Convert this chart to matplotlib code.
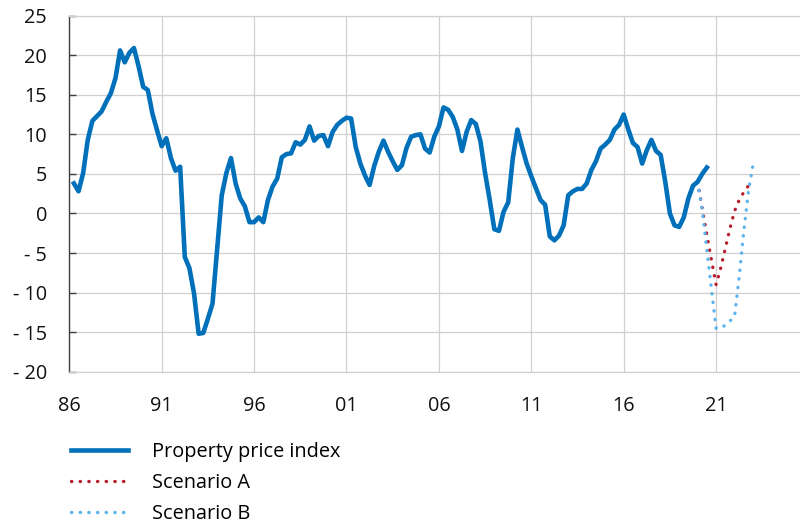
import numpy as np
import matplotlib
matplotlib.use('Agg')
import matplotlib.pyplot as plt

# property price index, quarterly % change, from 1986Q2
index_vals = [
    3.8, 2.8, 5.1, 9.3, 11.7, 12.3, 12.9, 14.1, 15.2, 17.1,
    20.6, 19.1, 20.3, 20.9, 18.6, 16.0, 15.6, 12.6, 10.5, 8.5,
    9.5, 7.0, 5.4, 5.9, -5.5, -6.9, -10.1, -15.2, -15.1, -13.3,
    -11.4, -4.5, 2.3, 5.1, 7.0, 3.8, 1.9, 0.9, -1.1, -1.1,
    -0.5, -1.1, 1.7, 3.4, 4.4, 7.1, 7.5, 7.6, 9.0, 8.7,
    9.3, 11.0, 9.2, 9.8, 9.9, 8.5, 10.3, 11.2, 11.7, 12.1,
    12.0, 8.4, 6.3, 4.8, 3.6, 6.0, 7.8, 9.2, 7.8, 6.6,
    5.5, 6.1, 8.3, 9.7, 9.9, 10.0, 8.2, 7.7, 9.7, 11.0,
    13.4, 13.1, 12.2, 10.6, 7.9, 10.3, 11.8, 11.3, 9.1, 5.1,
    1.7, -2.0, -2.2, 0.2, 1.4, 7.0, 10.6, 8.4, 6.3, 4.7,
    3.2, 1.7, 1.1, -2.9, -3.4, -2.8, -1.5, 2.3, 2.8, 3.1,
    3.1, 3.8, 5.5, 6.6, 8.2, 8.7, 9.3, 10.6, 11.2, 12.5,
    10.6, 8.9, 8.4, 6.3, 8.0, 9.3, 7.9, 7.4, 4.0, 0.0,
    -1.5, -1.7, -0.5, 1.9, 3.5, 4.0, 5.0, 5.8,
]
index_start = 1986.25

# scenarios, quarterly from 2020Q1
scen_a = [4.0, 0.6, -2.7, -5.9, -9.0, -6.9, -4.4, -1.9, 0.3, 1.7, 2.7, 3.5, 4.1]
scen_b = [4.0, 0.4, -4.6, -9.6, -14.5, -14.5, -14.1, -13.6, -13.0, -8.0, -2.2, 2.8, 6.2]
scen_start = 2020.0

tick_years = [1986, 1991, 1996, 2001, 2006, 2011, 2016, 2021]
tick_labels = ['86', '91', '96', '01', '06', '11', '16', '21']
yticks = [25, 20, 15, 10, 5, 0, -5, -10, -15, -20]

labels = ['Property price index', 'Scenario A', 'Scenario B']

plt.rcParams['font.family'] = ['Open Sans', 'DejaVu Sans']
fs = 14.3

fig = plt.figure(figsize=(8, 5.26), dpi=100)
ax = fig.add_axes([0.0866, 0.2933, 0.9134, 0.677])

x_idx = index_start + np.arange(len(index_vals)) / 4
x_sc = scen_start + np.arange(len(scen_a)) / 4

dots = (0, (0.1, 2.5))
ax.plot(x_idx, index_vals, color='#0070BA', lw=3.3, solid_joinstyle='round',
        label=labels[0], zorder=4)
ax.plot(x_sc, scen_a, color='#B81D2C', lw=2.4, linestyle=dots,
        dash_capstyle='round', label=labels[1], zorder=3)
ax.plot(x_sc, scen_b, color='#5DB3EC', lw=2.4, linestyle=dots,
        dash_capstyle='round', label=labels[2], zorder=3)

ax.set_xlim(1986, 2025.54)
ax.set_ylim(-20, 25)
ax.set_xticks(tick_years)
ax.set_xticklabels(tick_labels)
ax.set_yticks(yticks)
ax.set_yticklabels([str(v) if v >= 0 else '- ' + str(-v) for v in yticks])

ax.grid(True, color='#D0D0D0', lw=0.9)
ax.set_axisbelow(True)
for s in ['top', 'bottom']:
    ax.spines[s].set_color('#D0D0D0')
    ax.spines[s].set_linewidth(0.9)
ax.spines['right'].set_visible(False)
ax.spines['left'].set_color('#404040')
ax.spines['left'].set_linewidth(1.0)

ax.tick_params(axis='y', direction='in', length=5, width=1.0, color='#404040',
               pad=16, labelsize=fs, labelcolor='#111111')
ax.tick_params(axis='x', length=0, pad=17.5, labelsize=fs, labelcolor='#111111')

ax.legend(loc='upper left', bbox_to_anchor=(0.0884, 0.160),
          bbox_transform=fig.transFigure, frameon=False, fontsize=fs,
          borderaxespad=0, borderpad=0, handlelength=2.87, handletextpad=1.2,
          labelspacing=0.55)

fig.savefig('out.png', dpi=100)
